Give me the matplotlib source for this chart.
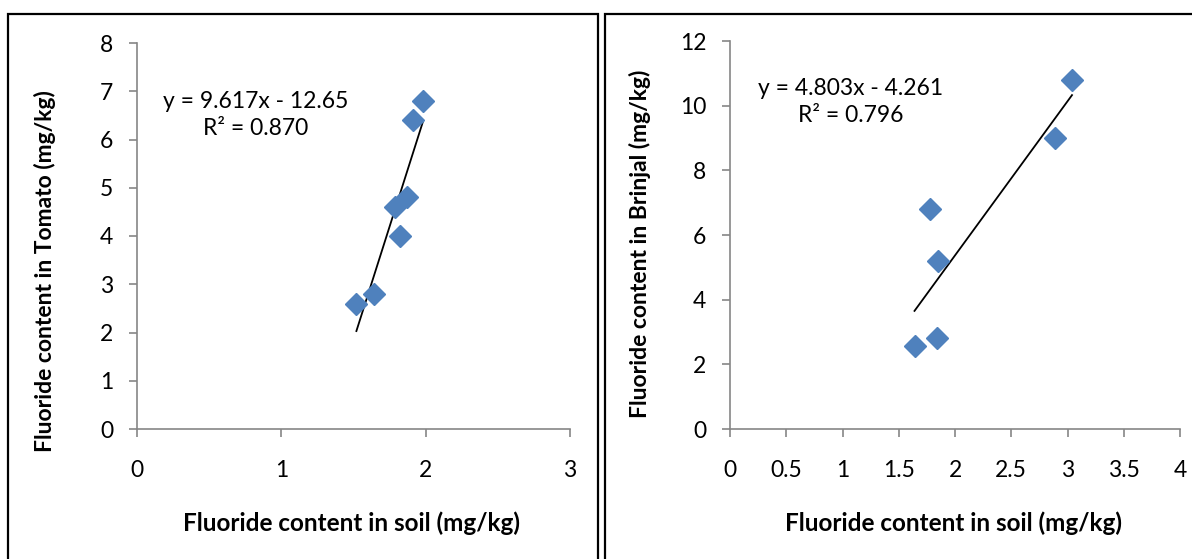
import numpy as np
import matplotlib.pyplot as plt
from matplotlib.patches import Rectangle

plt.rcParams['font.family'] = ['Lato', 'DejaVu Sans']

# Tomato vs soil
soil_tomato = [1.52, 1.64, 1.79, 1.87, 1.82, 1.91, 1.98]
tomato = [2.6, 2.8, 4.6, 4.8, 4.0, 6.4, 6.8]
tomato_eq = "y = 9.617x - 12.65\nR² = 0.870"

# Brinjal vs soil
soil_brinjal = [1.64, 1.84, 1.78, 1.85, 2.89, 3.04]
brinjal = [2.57, 2.8, 6.8, 5.2, 9.0, 10.8]
brinjal_eq = "y = 4.803x - 4.261\nR² = 0.796"

MARKER_COLOR = '#4F81BD'
AXIS_COLOR = '#868686'


def style_axes(ax):
    for side in ('top', 'right'):
        ax.spines[side].set_visible(False)
    for side in ('left', 'bottom'):
        ax.spines[side].set_color(AXIS_COLOR)
        ax.spines[side].set_linewidth(1.2)
    ax.tick_params(direction='out', length=6, width=1.2, color=AXIS_COLOR,
                   labelsize=16.5)
    ax.tick_params(axis='y', pad=11)
    ax.tick_params(axis='x', pad=16)


def draw_panel(ax, x, y, eq, eq_pos, xlim, xticks, ylim, yticks, ylabel,
               ylabel_pos):
    ax.plot(x, y, linestyle='none', marker='D', ms=11,
            color=MARKER_COLOR, zorder=3)
    slope, intercept = np.polyfit(x, y, 1)
    xs = np.array([min(x), max(x)])
    ax.plot(xs, slope * xs + intercept, color='black', lw=1.3, zorder=2)
    ax.text(eq_pos[0], eq_pos[1], eq, ha='center', va='center',
            fontsize=16.5, linespacing=1.35)
    ax.set_xlim(*xlim)
    ax.set_ylim(*ylim)
    ax.set_xticks(xticks)
    ax.set_yticks(yticks)
    ax.set_xticklabels([f'{t:g}' for t in xticks])
    xl = ax.set_xlabel('Fluoride content in soil (mg/kg)', fontsize=17.5,
                       fontweight='bold')
    xl.set_verticalalignment('center')
    ax.xaxis.set_label_coords(0.4965, -0.2435)
    yl = ax.set_ylabel(ylabel, fontsize=16.5, fontweight='bold')
    yl.set_verticalalignment('center')
    ax.yaxis.set_label_coords(*ylabel_pos)
    style_axes(ax)


fig = plt.figure(figsize=(11.92, 5.59), dpi=100)
W, H = 1192, 559

# panel frames
for x0, x1 in ((8, 598), (605, 1196)):
    fig.patches.append(Rectangle((x0 / W, -0.02), (x1 - x0) / W,
                                 (559 - 14) / H + 0.02,
                                 transform=fig.transFigure, fill=False,
                                 edgecolor='black', lw=1.6))

ax1 = fig.add_axes([137 / W, (H - 429) / H, 433 / W, 386 / H])
draw_panel(ax1, soil_tomato, tomato, tomato_eq, (0.825, 6.5),
           (0, 3), [0, 1, 2, 3], (0, 8), range(0, 9),
           'Fluoride content in Tomato (mg/kg)', (-0.2125, 0.409))

ax2 = fig.add_axes([730 / W, (H - 429) / H, 450 / W, 388 / H])
draw_panel(ax2, soil_brinjal, brinjal, brinjal_eq, (1.076, 10.1),
           (0, 4), [0, 0.5, 1, 1.5, 2, 2.5, 3, 3.5, 4], (0, 12),
           range(0, 13, 2),
           'Fluoride content in Brinjal (mg/kg)', (-0.2, 0.477))

fig.savefig('out.png', dpi=100)
plt.close(fig)
